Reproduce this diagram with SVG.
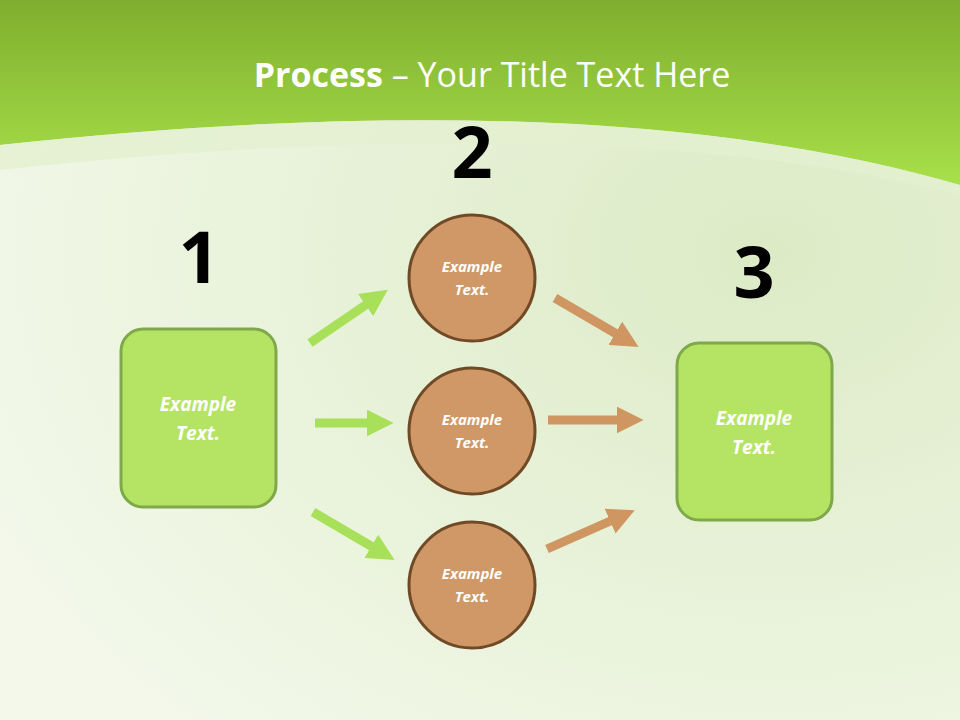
<svg xmlns="http://www.w3.org/2000/svg" width="960" height="720" viewBox="0 0 960 720">
<defs>
<linearGradient id="hdr" x1="0" y1="0" x2="0" y2="1"><stop offset="0" stop-color="#7fae2e"/><stop offset="1" stop-color="#a8e04a"/></linearGradient>
<radialGradient id="bg" cx="0.8" cy="0.35" r="0.9"><stop offset="0" stop-color="#dcebc6"/><stop offset="1" stop-color="#f3f8ea"/></radialGradient>
<marker id="ag" viewBox="0 0 10 10" refX="2" refY="5" markerWidth="3" markerHeight="3" orient="auto"><path d="M0,0L10,5L0,10z" fill="#a9e05a"/></marker>
<marker id="ab" viewBox="0 0 10 10" refX="2" refY="5" markerWidth="3" markerHeight="3" orient="auto"><path d="M0,0L10,5L0,10z" fill="#cf9662"/></marker>
<style>
.box{fill:#b5e464;stroke:#7ea84a;stroke-width:3}
.cir{fill:#cf9866;stroke:#704a26;stroke-width:3}
.t{font-family:"Open Sans","Liberation Sans",sans-serif;font-style:italic;font-weight:bold;fill:#fff;text-anchor:middle}
.n{font-family:"Open Sans","Liberation Sans",sans-serif;font-weight:bold;font-size:72px;fill:#000;text-anchor:middle}
.g{stroke:#a9e05a;stroke-width:9;fill:none;marker-end:url(#ag)}
.b{stroke:#cf9662;stroke-width:9;fill:none;marker-end:url(#ab)}
</style>
</defs>
<rect width="960" height="720" fill="url(#bg)"/>
<path d="M0,0H960V185Q600,80 0,145Z" fill="url(#hdr)"/>
<path d="M0,145Q600,80 960,185V195Q600,105 0,170Z" fill="#e4f0cf" opacity="0.8"/>
<text x="492" y="87" font-family="Open Sans,Liberation Sans,sans-serif" font-size="34" fill="#fff" text-anchor="middle"><tspan font-weight="bold">Process</tspan> – Your Title Text Here</text>
<g id="connectors">
<line class="g" x1="310" y1="343" x2="370" y2="302"/>
<line class="g" x1="315" y1="423" x2="372" y2="423"/>
<line class="g" x1="313" y1="512" x2="376" y2="549"/>
<line class="b" x1="555" y1="298" x2="620" y2="336"/>
<line class="b" x1="548" y1="420" x2="622" y2="420"/>
<line class="b" x1="547" y1="549" x2="615" y2="519"/>
</g>
<g id="n1"><text class="n" x="199" y="283">1</text><rect class="box" x="121" y="329" width="155" height="178" rx="22"/><text class="t" font-size="19" x="198" y="411">Example</text><text class="t" font-size="19" x="198" y="440">Text.</text></g>
<g id="n2"><text class="n" x="472" y="178">2</text><circle class="cir" cx="472" cy="278" r="63"/><text class="t" font-size="15" x="472" y="272">Example</text><text class="t" font-size="15" x="472" y="295">Text.</text></g>
<g id="n2b"><circle class="cir" cx="472" cy="431" r="63"/><text class="t" font-size="15" x="472" y="425">Example</text><text class="t" font-size="15" x="472" y="448">Text.</text></g>
<g id="n2c"><circle class="cir" cx="472" cy="585" r="63"/><text class="t" font-size="15" x="472" y="579">Example</text><text class="t" font-size="15" x="472" y="602">Text.</text></g>
<g id="n3"><text class="n" x="754" y="298">3</text><rect class="box" x="677" y="343" width="155" height="177" rx="22"/><text class="t" font-size="19" x="754" y="425">Example</text><text class="t" font-size="19" x="754" y="454">Text.</text></g>
</svg>
